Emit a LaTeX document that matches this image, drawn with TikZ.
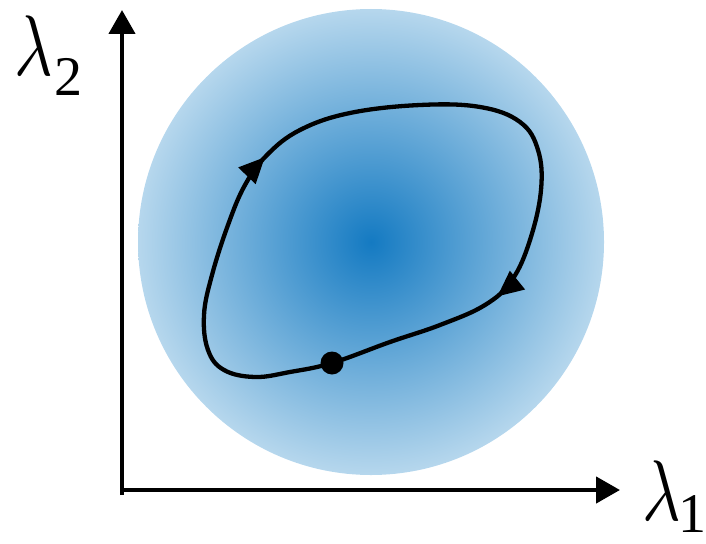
\documentclass[tikz,border=0pt]{standalone}
\usepackage{fontspec}
\setmainfont{Liberation Serif}
\usetikzlibrary{arrows.meta,decorations.markings}
\definecolor{cin}{RGB}{20,122,194}
\definecolor{cout}{RGB}{182,215,237}
\tikzset{
  axis/.style={line width=4.5pt, -{Triangle[length=24pt,width=26pt]}},
  loop/.style={line width=4.3pt, line join=round},
  looptip/.tip={Triangle[length=26pt,width=23pt]},
  lab/.style={anchor=base west, inner sep=0pt, font=\fontsize{10}{10}\selectfont},
  sub/.style={anchor=base west, inner sep=0pt, font=\fontsize{56}{56}\selectfont},
}
\begin{document}
\begin{tikzpicture}[x=1pt,y=-1pt]
\useasboundingbox (0,0) rectangle (706,543);
\path[shading=radial, inner color=cin, outer color=cout] (371,242) circle[radius=233];
\coordinate (ys) at (122,495);
\coordinate (yt) at (122,10);
\coordinate (xs) at (120,490);
\coordinate (xt) at (620,490);
\draw[axis] (ys) -- (yt);
\draw[axis] (xs) -- (xt);
\draw[loop, postaction={decorate}, decoration={markings,
   mark=at position 0.305 with {\arrow{looptip}},
   mark=at position 0.775 with {\arrow{looptip}}}]
  plot[smooth cycle, tension=0.65] coordinates {
  (332,363) (290,372) (255,377) (224,370) (208,350) (204,315) (212,275)
  (228,225) (245,185) (267,155) (300,130) (350,113) (420,105) (480,107)
  (520,122) (538,150) (541,190) (530,240) (512,280) (485,305) (440,325)
  (390,342)};
\node[circle, fill=black, inner sep=0pt, minimum size=23pt] (dot) at (332,363) {};
\node[lab] (l2) at (14,75) {\scalebox{6.6}[8.6]{$\lambda$}};
\node[sub] (s2) at (54,95) {2};
\node[lab] (l1) at (642,520) {\scalebox{6.6}[8.6]{$\lambda$}};
\node[sub] (s1) at (678,532) {1};
\end{tikzpicture}
\end{document}
